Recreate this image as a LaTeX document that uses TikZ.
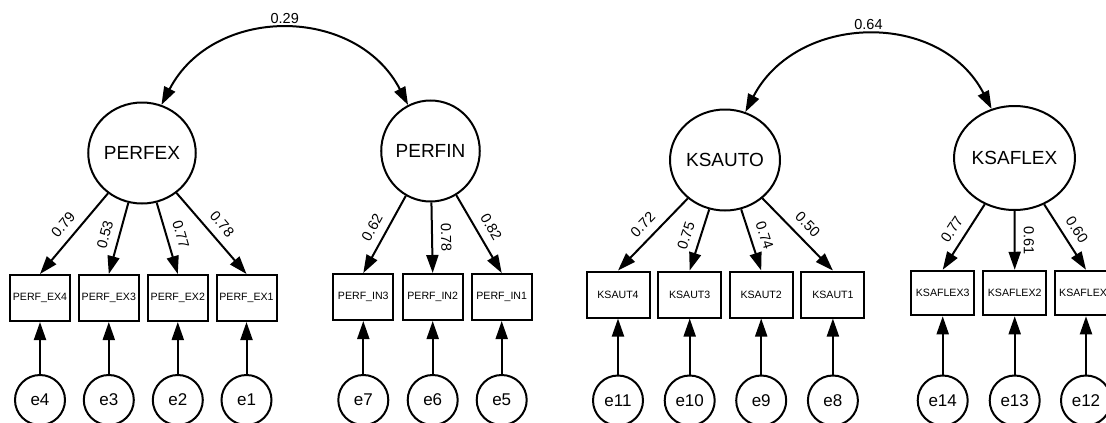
\documentclass[tikz,border=0pt]{standalone}
\usepackage{fontspec}
\setmainfont{Liberation Sans}
\usetikzlibrary{arrows.meta,shapes.geometric}
\begin{document}
\begin{tikzpicture}[x=1pt,y=1pt,
  line width=2pt,
  latent/.style={draw, ellipse, inner sep=0pt, minimum width=98pt, minimum height=101pt,
    font=\fontsize{19}{22}\selectfont},
  obsbox/.style={draw, rectangle, inner sep=0pt, minimum width=60pt, minimum height=46pt,
    font=\fontsize{10.6}{12}\selectfont},
  obsboxw/.style={obsbox, minimum width=63pt},
  errc/.style={draw, circle, inner sep=0pt, minimum size=50pt,
    font=\fontsize{17}{20}\selectfont},
  tipped/.style={-{Triangle[length=18pt,width=12pt]}},
  covar/.style={{Triangle[length=18pt,width=12pt]}-{Triangle[length=18pt,width=12pt]}},
  coef/.style={font=\fontsize{14.5}{16}\selectfont, sloped, above=6pt, pos=0.5, inner sep=2pt},
  corr/.style={font=\fontsize{14.5}{16}\selectfont, inner sep=2pt}
]
\useasboundingbox (0,0) rectangle (1106,-423);

% ---------- performance factors ----------
\node[latent] (PERFEX) at (142,-153) {PERFEX};
\node[latent] (PERFIN) at (430.5,-151) {PERFIN};

\node[obsbox] (EX4) at (40,-298)    {PERF\_EX4};
\node[obsbox] (EX3) at (108.8,-298) {PERF\_EX3};
\node[obsbox] (EX2) at (177.8,-298) {PERF\_EX2};
\node[obsbox] (EX1) at (246.5,-298) {PERF\_EX1};
\node[obsbox] (IN3) at (363.3,-297) {PERF\_IN3};
\node[obsbox] (IN2) at (432.7,-297) {PERF\_IN2};
\node[obsbox] (IN1) at (501.7,-297) {PERF\_IN1};

\node[errc] (e4) at (40,-400)    {e4};
\node[errc] (e3) at (108.8,-400) {e3};
\node[errc] (e2) at (177.8,-400) {e2};
\node[errc] (e1) at (246.5,-400) {e1};
\node[errc] (e7) at (363.3,-400) {e7};
\node[errc] (e6) at (432.7,-400) {e6};
\node[errc] (e5) at (501.7,-400) {e5};

\draw[covar] (PERFEX.68) .. controls +(62.6:112.6) and +(117.4:112.6) .. (PERFIN.116)
  node[corr, midway, above=3pt] (c1) {0.29};

\draw[tipped] (PERFEX) -- (EX4.north) node[coef] (l1) {0.79};
\draw[tipped] (PERFEX) -- (EX3.north) node[coef] (l2) {0.53};
\draw[tipped] (PERFEX) -- (EX2.north) node[coef] (l3) {0.77};
\draw[tipped] (PERFEX) -- (EX1.north) node[coef] (l4) {0.78};
\draw[tipped] (PERFIN) -- (IN3.north) node[coef] (l5) {0.62};
\draw[tipped] (PERFIN) -- (IN2.north) node[coef] (l6) {0.78};
\draw[tipped] (PERFIN) -- (IN1.north) node[coef] (l7) {0.82};

\foreach \e/\b in {e4/EX4,e3/EX3,e2/EX2,e1/EX1,e7/IN3,e6/IN2,e5/IN1}
  \draw[tipped] (\e) -- (\b);

% ---------- KSA factors ----------
\node[latent] (KSAUTO) at (725,-160) {KSAUTO};
\node[latent, minimum width=101pt, minimum height=104pt] (KSAFLEX) at (1014.5,-158) {KSAFLEX};

\node[obsboxw] (KA4) at (618,-294.5)   {KSAUT4};
\node[obsboxw] (KA3) at (689.7,-294.5) {KSAUT3};
\node[obsboxw] (KA2) at (761.2,-294.5) {KSAUT2};
\node[obsboxw] (KA1) at (832.9,-294.5) {KSAUT1};
\node[obsboxw, minimum height=44.5pt] (KF3) at (942.7,-293) {KSAFLEX3};
\node[obsboxw, minimum height=44.5pt] (KF2) at (1014.7,-293) {KSAFLEX2};
\node[obsboxw, minimum height=44.5pt] (KF1) at (1086,-293) {KSAFLEX1};

\node[errc] (e11) at (618,-400.5)   {e11};
\node[errc] (e10) at (689.7,-400.5) {e10};
\node[errc] (e9)  at (761.2,-400.5) {e9};
\node[errc] (e8)  at (832.9,-400.5) {e8};
\node[errc] (e14) at (942.7,-400.5) {e14};
\node[errc] (e13) at (1014.7,-400.5) {e13};
\node[errc] (e12) at (1086,-400.5)  {e12};

\draw[covar] (KSAUTO.67) .. controls +(62.6:111.5) and +(117.4:111.5) .. (KSAFLEX.115)
  node[corr, midway, above=4pt] (c2) {0.64};

\draw[tipped] (KSAUTO) -- (KA4.north) node[coef] (m1) {0.72};
\draw[tipped] (KSAUTO) -- (KA3.north) node[coef] (m2) {0.75};
\draw[tipped] (KSAUTO) -- (KA2.north) node[coef] (m3) {0.74};
\draw[tipped] (KSAUTO) -- (KA1.north) node[coef] (m4) {0.50};
\draw[tipped] (KSAFLEX) -- (KF3.north) node[coef] (m5) {0.77};
\draw[tipped] (KSAFLEX) -- (KF2.north) node[coef] (m6) {0.61};
\draw[tipped] (KSAFLEX) -- (KF1.north) node[coef] (m7) {0.60};

\foreach \e/\b in {e11/KA4,e10/KA3,e9/KA2,e8/KA1,e14/KF3,e13/KF2,e12/KF1}
  \draw[tipped] (\e) -- (\b);
\end{tikzpicture}
\end{document}
